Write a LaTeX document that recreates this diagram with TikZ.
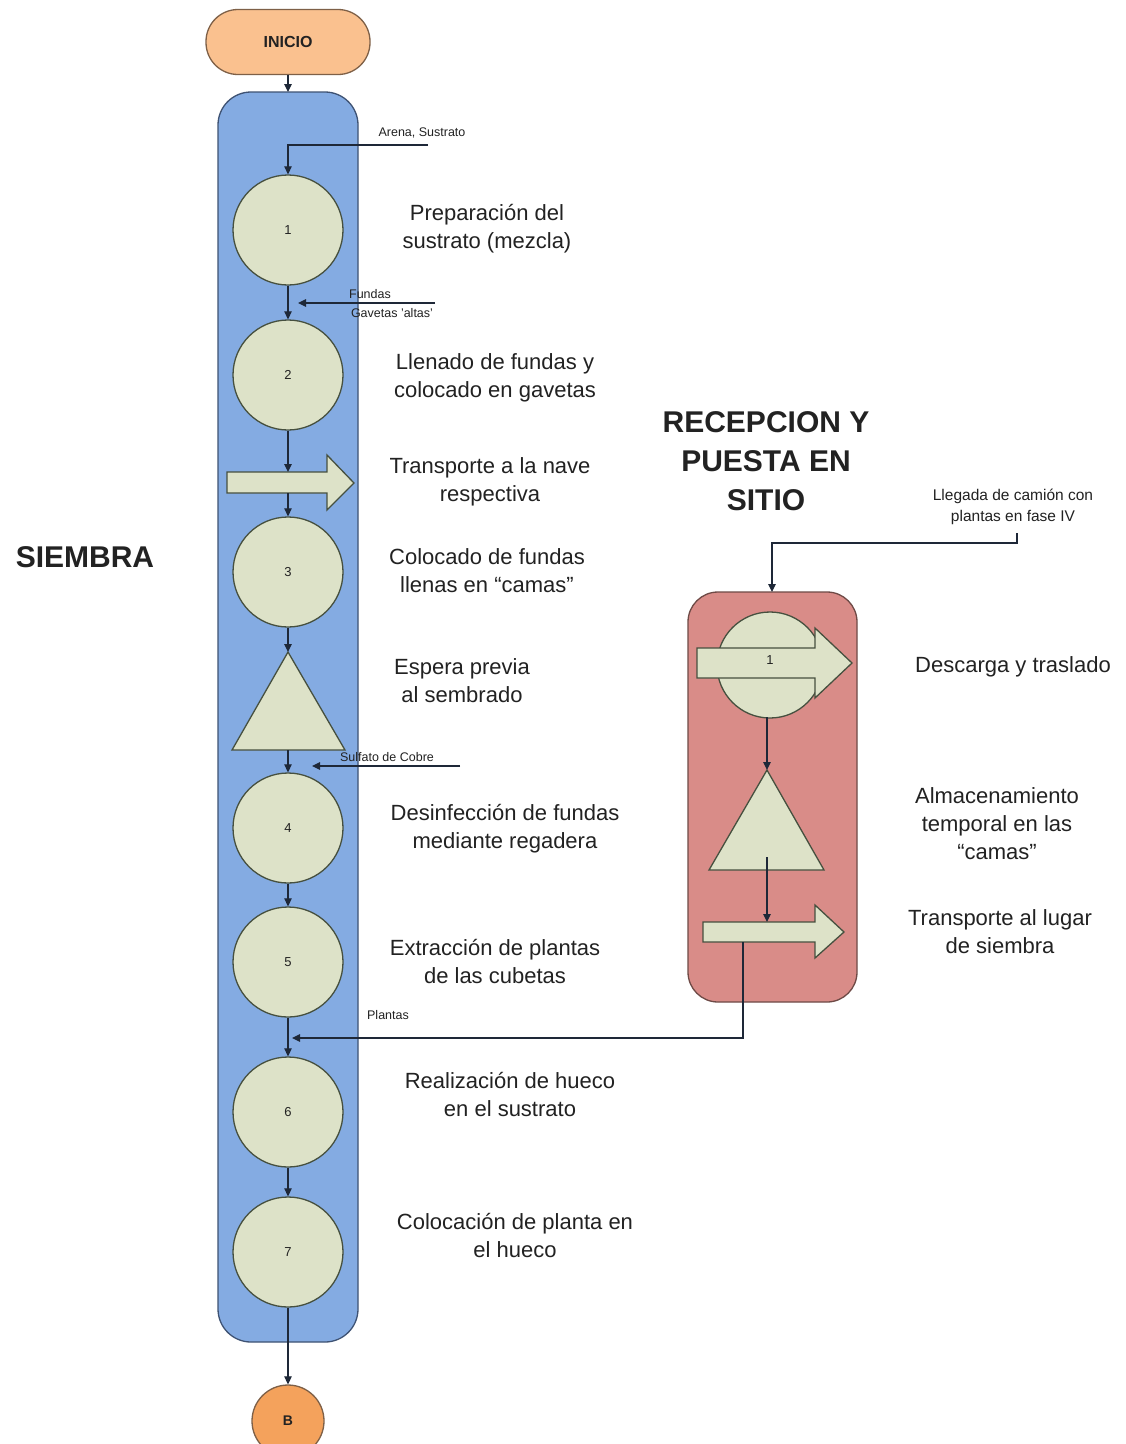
\documentclass[tikz,border=0pt]{standalone}
\usepackage{fontspec}
\setmainfont{Liberation Sans}
\usetikzlibrary{arrows.meta}
\definecolor{cfill}{HTML}{DDE2C8}
\definecolor{cborder}{HTML}{46503F}
\definecolor{blueC}{HTML}{84ABE2}
\definecolor{blueB}{HTML}{3E5273}
\definecolor{redC}{HTML}{D98C88}
\definecolor{redB}{HTML}{6E4A46}
\definecolor{iniC}{HTML}{FAC18F}
\definecolor{iniB}{HTML}{7E6047}
\definecolor{bC}{HTML}{F4A25C}
\definecolor{lineC}{HTML}{1E2838}
\definecolor{txtC}{HTML}{222222}
\begin{document}
\begin{tikzpicture}[x=1pt,y=-1pt,
  proc/.style={circle,draw=cborder,fill=cfill,line width=1.3pt,minimum size=110pt,inner sep=0pt,font=\fontsize{13}{15}\selectfont,text=txtC},
  flow/.style={-{Triangle[length=8pt,width=7.5pt]},line width=1.2pt,draw=lineC},
  lbl/.style={align=center,font=\fontsize{22}{28}\selectfont,text=txtC},
  title/.style={align=center,font=\bfseries\fontsize{30}{39}\selectfont,text=txtC},
  small/.style={font=\fontsize{12.5}{14}\selectfont,text=txtC},
  shp/.style={draw=cborder,fill=cfill,line width=1.3pt}]
\useasboundingbox (0,0) rectangle (1126,1444);
\fill[white] (0,0) rectangle (1126,1444);

% containers
\draw[blueB,fill=blueC,line width=1.3pt,rounded corners=33pt] (218,92) rectangle (358,1342);
\draw[redB,fill=redC,line width=1.3pt,rounded corners=30pt] (688,592) rectangle (857,1002);

% start / end
\node[draw=iniB,fill=iniC,line width=1.3pt,rounded corners=32pt,minimum width=164pt,minimum height=65pt,font=\bfseries\fontsize{16}{18}\selectfont,text=txtC] (ini) at (288,42) {INICIO};
\node[circle,draw=iniB,fill=bC,line width=1.3pt,minimum size=72pt,inner sep=0pt,font=\bfseries\fontsize{14}{16}\selectfont,text=txtC] (fin) at (288,1421) {B};

% SIEMBRA steps
\node[proc] (c1) at (288,230) {1};
\node[proc] (c2) at (288,375) {2};
\draw[shp] (227,472) -- (327,472) -- (327,455) -- (354,483) -- (327,510) -- (327,493) -- (227,493) -- cycle;
\coordinate (a1t) at (288,472);
\coordinate (a1b) at (288,493);
\node[proc] (c3) at (288,572) {3};
\draw[shp] (288,652) -- (345,750) -- (232,750) -- cycle;
\coordinate (t1t) at (288,652);
\coordinate (t1b) at (288,750);
\coordinate (bxtop) at (288,92);
\node[proc] (c4) at (288,828) {4};
\node[proc] (c5) at (288,962) {5};
\node[proc] (c6) at (288,1112) {6};
\node[proc] (c7) at (288,1252) {7};

% RECEPCION steps
\node[proc,minimum size=106pt] (r1) at (770,665) {};
\draw[shp] (697,648) -- (815,648) -- (815,628) -- (852,663) -- (815,698) -- (815,678) -- (697,678) -- cycle;
\node[font=\fontsize{13}{15}\selectfont,text=txtC] (r1n) at (770,660) {1};
\draw[shp] (767,770) -- (824,870) -- (709,870) -- cycle;
\coordinate (t2t) at (767,770);
\coordinate (t2in) at (767,857);
\coordinate (r1b) at (767,717);
\draw[shp] (703,922) -- (815,922) -- (815,905) -- (844,932) -- (815,958) -- (815,942) -- (703,942) -- cycle;
\coordinate (a2t) at (767,922);
\coordinate (a2b) at (743,942);

% main flow
\draw[flow] (ini.south) -- (bxtop);
\draw[flow] (c1) -- (c2);
\draw[flow] (c2) -- (a1t);
\draw[flow] (a1b) -- (c3);
\draw[flow] (c3) -- (t1t);
\draw[flow] (t1b) -- (c4);
\draw[flow] (c4) -- (c5);
\draw[flow] (c5) -- (c6);
\draw[flow] (c6) -- (c7);
\draw[flow] (c7) -- (fin);
\draw[flow] (r1b) -- (t2t);
\draw[flow] (t2in) -- (a2t);

% inputs
\coordinate (inA) at (428,145);
\coordinate (inF) at (435,303);
\coordinate (inS) at (460,766);
\coordinate (inL) at (1017,533);
\draw[flow] (inA) -- (288,145) -- (c1.north);
\draw[flow] (inF) -- (298,303);
\draw[flow] (inS) -- (312,766);
\draw[flow] (a2b) -- (743,1038) -- (292,1038);
\draw[flow] (inL) -- (1017,543) -- (772,543) -- (772,592);

% small labels
\node[small] (lA) at (422,133) {Arena, Sustrato};
\node[small] (lF) at (370,294) {Fundas};
\node[small] (lG) at (392,313) {Gavetas 'altas'};
\node[small] (lS) at (387,757) {Sulfato de Cobre};
\node[small] (lP) at (388,1015) {Plantas};

% step labels
\node[lbl] (d1) at (487,229) {Preparación del\\sustrato (mezcla)};
\node[lbl] (d2) at (495,378) {Llenado de fundas y\\colocado en gavetas};
\node[lbl] (d3) at (490,482) {Transporte a la nave\\respectiva};
\node[lbl] (d4) at (487,571) {Colocado de fundas\\llenas en ``camas''};
\node[lbl] (d5) at (462,681) {Espera previa\\al sembrado};
\node[lbl] (d6) at (505,829) {Desinfección de fundas\\mediante regadera};
\node[lbl] (d7) at (495,961) {Extracción de plantas\\de las cubetas};
\node[lbl] (d8) at (510,1094) {Realización de hueco\\en el sustrato};
\node[lbl] (d9) at (515,1235) {Colocación de planta en\\el hueco};

\node[lbl] (e1) at (1013,667) {Descarga y traslado};
\node[lbl] (e2) at (997,824) {Almacenamiento\\temporal en las\\``camas''};
\node[lbl] (e3) at (1000,932) {Transporte al lugar\\de siembra};
\node[align=center,font=\fontsize{15.5}{21}\selectfont,text=txtC] (lL) at (1013,507) {Llegada de camión con\\plantas en fase IV};

% titles
\node[title] (tS) at (85,557) {SIEMBRA};
\node[title] (tR) at (766,461) {RECEPCION Y\\PUESTA EN\\SITIO};
\end{tikzpicture}
\end{document}
